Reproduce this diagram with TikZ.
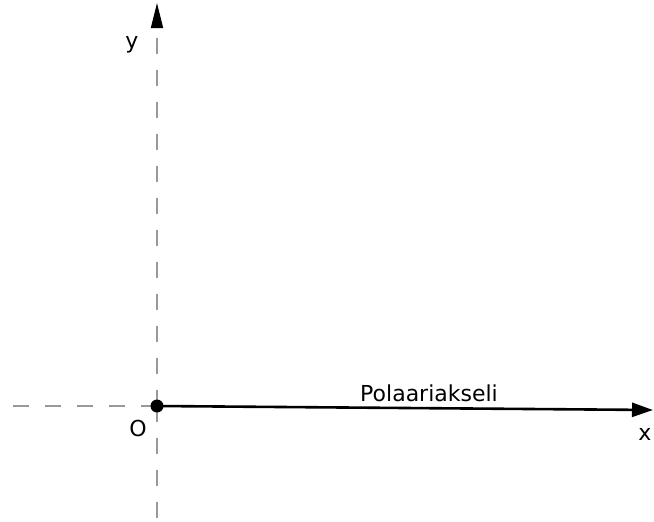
\documentclass[tikz,border=0pt]{standalone}
\usepackage{fontspec}
\setmainfont{DejaVu Sans}
\usetikzlibrary{arrows.meta}
\begin{document}
\begin{tikzpicture}[x=1pt, y=-1pt, font=\fontsize{22}{26}\selectfont,
  axisdash/.style={gray!80, line width=1.4pt, dash pattern=on 16pt off 16pt},
  polaxis/.style={line width=2.6pt, -{Triangle[length=21pt, width=14pt]}}]
  \useasboundingbox (0,0) rectangle (654,522);

  % ── Cartesian axes (dashed) ────────────────────────────────────────
  \coordinate (O) at (157,406);
  \coordinate (ytip) at (157,3);
  \coordinate (ybot) at (157,522);
  \coordinate (xleft) at (0,406);
  \draw[axisdash] (O) -- (xleft);
  \draw[axisdash] (O) -- (ybot);
  \draw[axisdash, -{Triangle[length=25pt, width=12pt, black]}] (O) -- (ytip);

  % ── Polar axis ──────────────────────────────────────────────────────
  \coordinate (xtip) at (653,410);
  \draw[polaxis] (O) -- (xtip);
  \fill (O) circle (6.5pt);

  % labels
  \node (ylab) at (132,45) {y};
  \node (olab) at (138,428) {O};
  \node (xlab) at (645,434) {x};
  \node[anchor=base] (plab) at (429,401) {Polaariakseli};

\end{tikzpicture}
\end{document}
